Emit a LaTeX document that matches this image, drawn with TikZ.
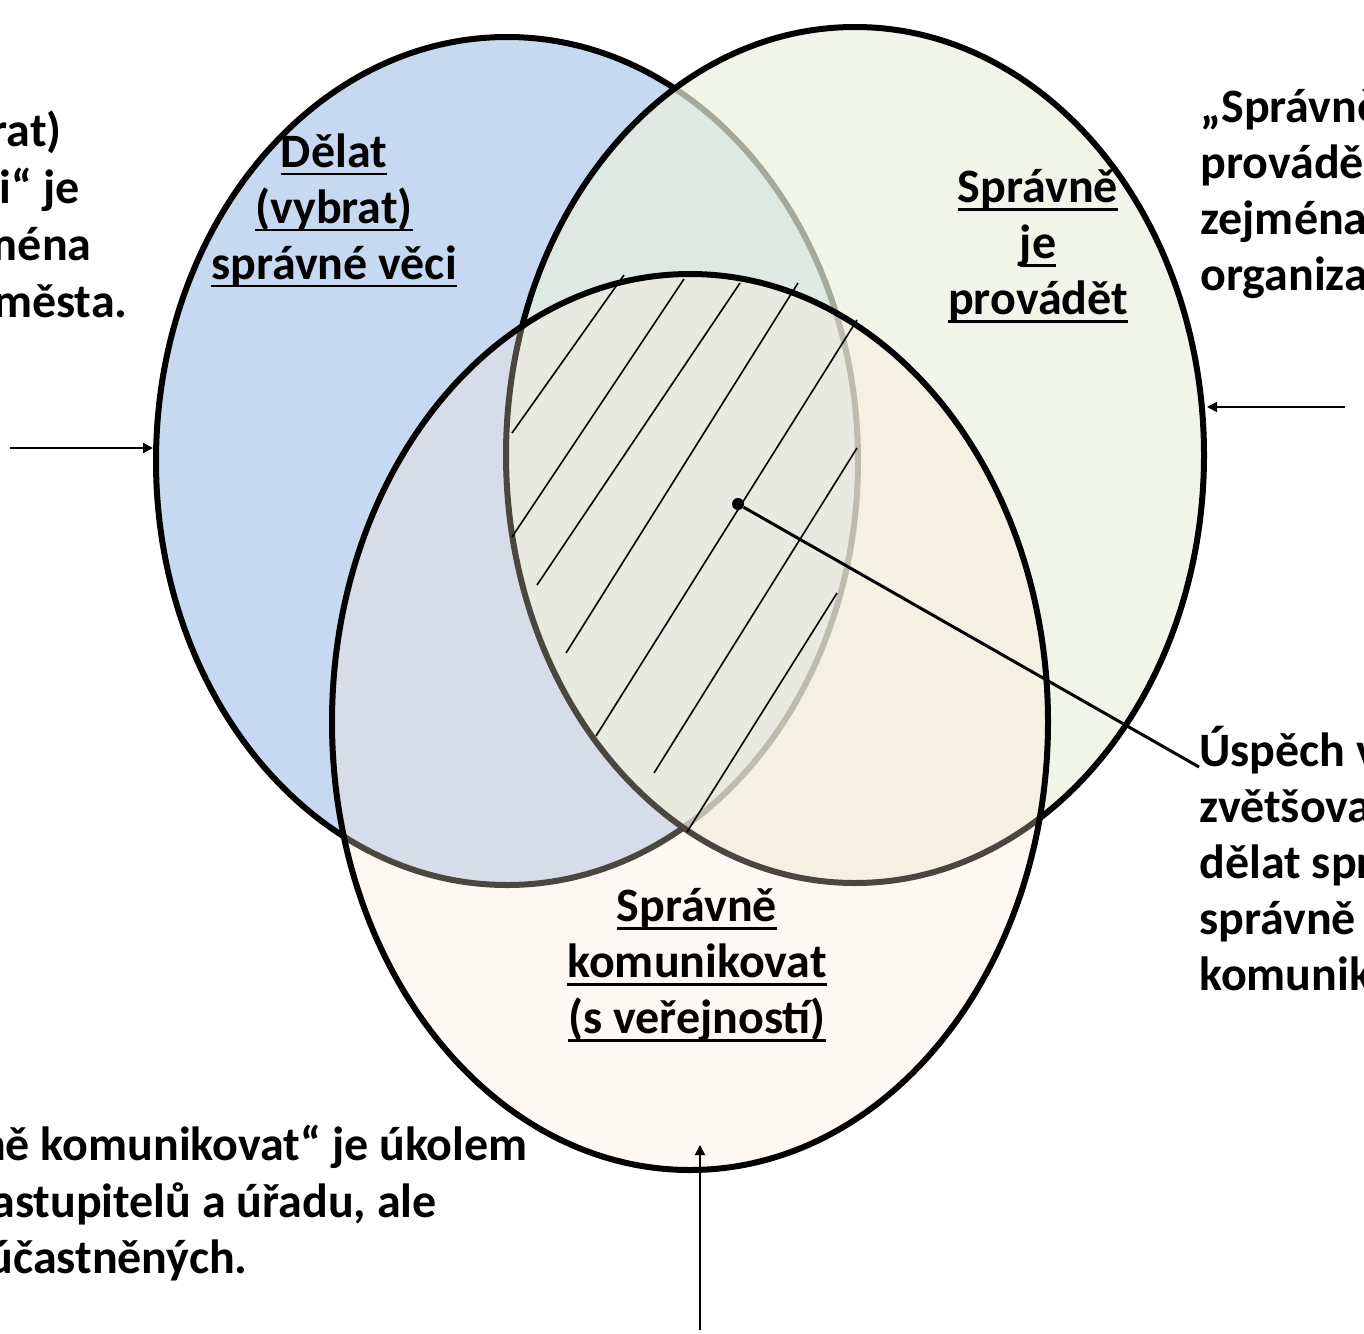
\documentclass[tikz,border=0pt]{standalone}
\usepackage{fontspec}
\setmainfont{Carlito}
\usetikzlibrary{shapes.geometric,arrows.meta}
\definecolor{blueset}{HTML}{C6D9F1}
\definecolor{greenset}{HTML}{EBF1DE}
\definecolor{peachset}{HTML}{FDE9D9}
\newcommand\ulined[1]{\setbox0=\hbox{#1}\rlap{\rule[-4.1pt]{\wd0}{1.3pt}}\box0}
\tikzset{
  venn/.style={ellipse, draw=black, line width=3pt},
  txt/.style={font=\fontsize{24}{28}\selectfont\bfseries, inner sep=0pt, execute at begin node=\strut},
  ptr/.style={line width=1pt, -{Triangle[length=5pt,width=5pt]}},
  hatch/.style={line width=0.8pt}
}
\begin{document}
\begin{tikzpicture}[x=0.5pt,y=-0.5pt]
  \useasboundingbox (0,0) rectangle (1364,1333);
  % the three sets
  \node[venn, fill=blueset, minimum width=351pt, minimum height=424pt] (dobre) at (507,461) {};
  \node[venn, fill=greenset, fill opacity=0.7, minimum width=349pt, minimum height=428pt] (provadet) at (855,455) {};
  \node[venn, fill=peachset, fill opacity=0.3, minimum width=358pt, minimum height=448pt] (komunikace) at (690,722) {};

  % hatching of the common part
  \foreach \xa/\ya/\xb/\yb in {512/433/624/275, 512/537/684/279, 537/585/740/283,
      566/653/798/283, 596/736/857/320, 654/773/857/448, 687/832/837/593}
    \draw[hatch] (\xa,\ya) -- (\xb,\yb);

  % labels inside
  \node[txt, align=center, anchor=north] (lbl-dobre) at (334,133)
    {\ulined{Dělat}\\\ulined{(vybrat)}\\\ulined{správné věci}};
  \node[txt, align=center, anchor=north] (lbl-provadet) at (1038,169)
    {\ulined{Správně}\\\ulined{je}\\\ulined{provádět}};
  \node[txt, align=center, anchor=north] (lbl-komunikace) at (697,888)
    {\ulined{Správně}\\\ulined{komunikovat}\\\ulined{(s veřejností)}};

  % notes round the edge
  \node[txt, anchor=base east] (pozn-l1) at (62,146) {rat)};
  \node[txt, anchor=base east] (pozn-l2) at (80,203) {ci“ je};
  \node[txt, anchor=base east] (pozn-l3) at (92,260) {ména};
  \node[txt, anchor=base east] (pozn-l4) at (128,317) {města.};
  \node[txt, align=left, anchor=north west] (pozn-provadet) at (1200,89)
    {„Správně\\provádě\\zejména\\organiza};
  \node[txt, align=left, anchor=north west] (pozn-uspech) at (1199,726)
    {Úspěch v\\zvětšova\\dělat spr\\správně\\komunik};
  \node[txt, anchor=base east] (pozn-d1) at (528,1160) {ně komunikovat“ je úkolem};
  \node[txt, anchor=base east] (pozn-d2) at (437,1217) {astupitelů a úřadu, ale};
  \node[txt, anchor=base east] (pozn-d3) at (248,1273) {účastněných.};

  % pointers
  \node[circle, fill, inner sep=0pt, minimum size=6pt] (jadro) at (738,504) {};
  \coordinate (uspech-tip) at (1199,767);
  \draw[line width=1.5pt] (jadro) -- (uspech-tip);

  \coordinate (sipka-l) at (10,448);
  \coordinate (sipka-p) at (1345,407);
  \coordinate (sipka-d) at (700,1330);
  \coordinate (sipka-d-tip) at (700,1145);
  \draw[ptr] (sipka-l) -- (sipka-l -| dobre.west);
  \draw[ptr] (sipka-p) -- (sipka-p -| provadet.east);
  \draw[ptr] (sipka-d) -- (sipka-d-tip);
\end{tikzpicture}
\end{document}
